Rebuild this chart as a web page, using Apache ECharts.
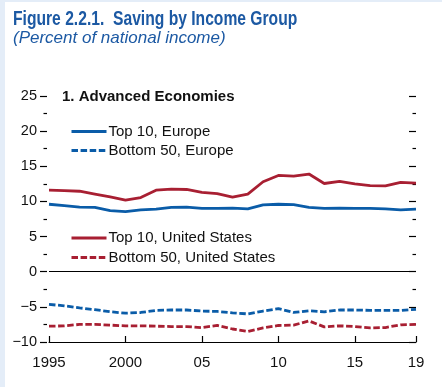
<!DOCTYPE html>
<html><head><meta charset="utf-8">
<script src="https://cdn.jsdelivr.net/npm/echarts@6/dist/echarts.min.js"></script>
<style>html,body{margin:0;padding:0;background:#fff}#c{width:442px;height:387px}</style>
</head><body><div id="c"></div>
<script>
const years = ['1995','1996','1997','1998','1999','2000','2001','2002','2003','2004','2005','2006','2007','2008','2009','2010','2011','2012','2013','2014','2015','2016','2017','2018','2019'];
const top10Europe = [9.6, 9.4, 9.2, 9.15, 8.7, 8.55, 8.8, 8.9, 9.15, 9.2, 9.0, 9.0, 9.05, 8.95, 9.5, 9.6, 9.55, 9.15, 9.0, 9.05, 9.0, 9.0, 8.95, 8.8, 8.9];
const bottom50Europe = [-4.65, -4.85, -5.15, -5.4, -5.7, -5.9, -5.8, -5.5, -5.45, -5.45, -5.6, -5.65, -5.85, -6.0, -5.6, -5.25, -5.8, -5.55, -5.7, -5.45, -5.45, -5.5, -5.5, -5.5, -5.35];
const top10US = [11.6, 11.55, 11.45, 11.05, 10.65, 10.2, 10.55, 11.6, 11.75, 11.7, 11.3, 11.1, 10.6, 11.05, 12.8, 13.7, 13.6, 13.9, 12.55, 12.85, 12.5, 12.25, 12.2, 12.7, 12.6];
const bottom50US = [-7.75, -7.7, -7.5, -7.5, -7.6, -7.7, -7.7, -7.75, -7.8, -7.8, -7.95, -7.65, -8.15, -8.5, -8.0, -7.65, -7.6, -7.0, -7.85, -7.7, -7.8, -8.0, -7.95, -7.55, -7.5];
const seriesNames = ['Top 10, Europe','Bottom 50, Europe','Top 10, United States','Bottom 50, United States'];
const titleText = 'Figure 2.2.1.  Saving by Income Group';
const subtitleText = '(Percent of national income)';
const panelText = '1. Advanced Economies';

const BLUE = '#0a5ca8', RED = '#a81f32', TBLUE = '#1c59a3';
const FONT = '"Liberation Sans", Arial, sans-serif';
const showIdx = (i) => i % 5 === 0 || i === years.length - 1;
function mk(name, data, color, dashed, withZero) {
  const s = {
    name, type: 'line', data, showSymbol: false, symbol: 'none', smooth: false,
    lineStyle: { color, width: 2.8, type: dashed ? [6.5, 2.6] : 'solid', cap: 'butt' },
    itemStyle: { color }, z: 3
  };
  if (withZero) s.markLine = { silent: true, symbol: ['none','none'], label: { show: false },
    lineStyle: { color: '#000', width: 1.2, type: 'solid' }, data: [{ yAxis: 0 }], animation: false };
  return s;
}
const legendBase = {
  orient: 'vertical', left: 65, itemWidth: 35, itemHeight: 14, itemGap: 4, selectedMode: false,
  itemStyle: { opacity: 0 }, lineStyle: { width: 3 },
  textStyle: { fontFamily: FONT, fontSize: 15, color: '#111', padding: [0,0,0,-3] }
};
const chart = echarts.init(document.getElementById('c'), null, { renderer: 'canvas' });
chart.setOption({
  animation: false,
  backgroundColor: '#fff',
  graphic: [
    { type: 'rect', left: 0, top: 0, shape: { width: 5, height: 387 }, style: { fill: '#e4edf8' }, silent: true },
    { type: 'rect', left: 0, top: 0, shape: { width: 442, height: 2 }, style: { fill: '#e4edf8' }, silent: true },
    { type: 'text', x: 13, y: 19.5, scaleX: 0.745, style: { text: titleText, font: 'bold 21px ' + FONT, fill: TBLUE, textVerticalAlign: 'middle' } },
    { type: 'text', x: 13, y: 38.5, style: { text: subtitleText, font: 'italic 17px ' + FONT, fill: TBLUE, textVerticalAlign: 'middle' } },
    { type: 'text', x: 62, y: 96.5, style: { text: panelText, font: 'bold 15px ' + FONT, fill: '#111', textVerticalAlign: 'middle' } }
  ],
  legend: [
    Object.assign({}, legendBase, { data: [seriesNames[0], seriesNames[1]], top: 119 }),
    Object.assign({}, legendBase, { data: [seriesNames[2], seriesNames[3]], top: 225.5, itemGap: 4.6 })
  ],
  grid: { left: 49, right: 26, top: 96, bottom: 45, containLabel: false },
  xAxis: {
    type: 'category', data: years, boundaryGap: false,
    axisLine: { show: true, onZero: false, lineStyle: { color: '#000', width: 1.2 } },
    axisTick: { show: true, inside: true, length: 6, interval: (i) => showIdx(i), lineStyle: { color: '#000', width: 1.2 } },
    axisLabel: { interval: (i) => showIdx(i), margin: 13, fontFamily: FONT, fontSize: 15, color: '#111',
      formatter: (v, i) => (i === 0 || v === '2000') ? v : v.slice(2) },
    splitLine: { show: false }
  },
  yAxis: [
    { type: 'value', min: -10, max: 25, interval: 5, position: 'left', offset: 2,
      axisLine: { show: false },
      axisTick: { show: true, inside: false, length: 7, lineStyle: { color: '#000', width: 1.2 } },
      minorTick: { show: true, splitNumber: 2, length: 3.5, lineStyle: { color: '#000', width: 1.2 } },
      axisLabel: { margin: 10, fontFamily: FONT, fontSize: 14.5, color: '#111', formatter: (v) => v < 0 ? '\u2212' + Math.abs(v) : String(v) },
      splitLine: { show: false }, minorSplitLine: { show: false } },
    { type: 'value', min: -10, max: 25, interval: 5, position: 'right',
      axisLine: { show: false },
      axisTick: { show: true, inside: true, length: 7, lineStyle: { color: '#000', width: 1.2 } },
      minorTick: { show: true, splitNumber: 2, length: 3.5, lineStyle: { color: '#000', width: 1.2 } },
      axisLabel: { show: false }, splitLine: { show: false }, minorSplitLine: { show: false } }
  ],
  series: [
    mk(seriesNames[0], top10Europe, BLUE, false, true),
    mk(seriesNames[1], bottom50Europe, BLUE, true),
    mk(seriesNames[2], top10US, RED, false),
    mk(seriesNames[3], bottom50US, RED, true)
  ]
});
</script></body></html>
